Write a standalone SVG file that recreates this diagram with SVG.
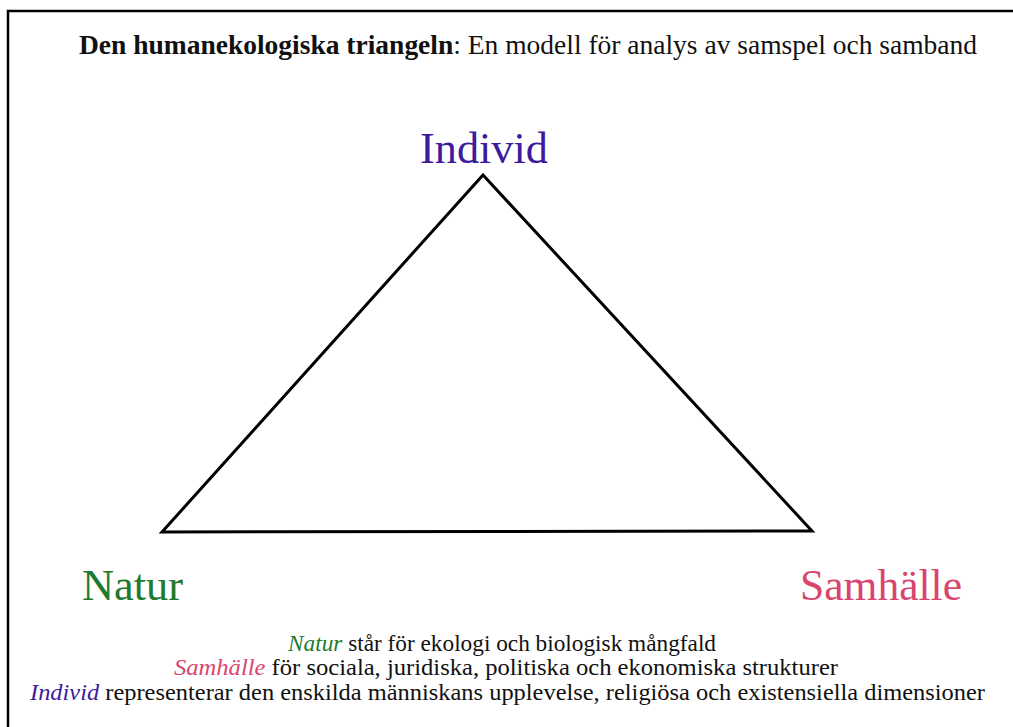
<svg xmlns="http://www.w3.org/2000/svg" width="1013" height="727" viewBox="0 0 1013 727">
<style>
text{font-family:"Liberation Serif","Times New Roman",serif;fill:#111}
.t{font-size:27px}
.lbl{font-size:44px}
.d{font-size:23px}
.nat{fill:#1e7a2c}
.sam{fill:#d9456f}
.ind{fill:#3d1b9c}
</style>
<rect x="0" y="0" width="1013" height="727" fill="#fff"/>
<path d="M8 727 V11 H1013" fill="none" stroke="#000" stroke-width="2.5"/>
<g id="title"><text class="t" x="79" y="54" textLength="898" lengthAdjust="spacingAndGlyphs"><tspan font-weight="bold">Den humanekologiska triangeln</tspan>: En modell för analys av samspel och samband</text></g>
<g id="connectors"><polygon points="483,175 162,532 812,531" fill="none" stroke="#000" stroke-width="3" stroke-linejoin="miter"/></g>
<g id="individ"><text class="lbl ind" x="420" y="163" textLength="128" lengthAdjust="spacingAndGlyphs">Individ</text></g>
<g id="natur"><text class="lbl nat" x="82" y="600" textLength="101" lengthAdjust="spacingAndGlyphs">Natur</text></g>
<g id="samhalle"><text class="lbl sam" x="800" y="600" textLength="162" lengthAdjust="spacingAndGlyphs">Samhälle</text></g>
<g id="legend">
<text class="d" x="288" y="651" textLength="428" lengthAdjust="spacingAndGlyphs"><tspan class="nat" font-style="italic">Natur</tspan> står för ekologi och biologisk mångfald</text>
<text class="d" x="174" y="675" textLength="664" lengthAdjust="spacingAndGlyphs"><tspan class="sam" font-style="italic">Samhälle</tspan> för sociala, juridiska, politiska och ekonomiska strukturer</text>
<text class="d" x="30" y="700" textLength="955" lengthAdjust="spacingAndGlyphs"><tspan class="ind" font-style="italic">Individ</tspan> representerar den enskilda människans upplevelse, religiösa och existensiella dimensioner</text>
</g>
</svg>
